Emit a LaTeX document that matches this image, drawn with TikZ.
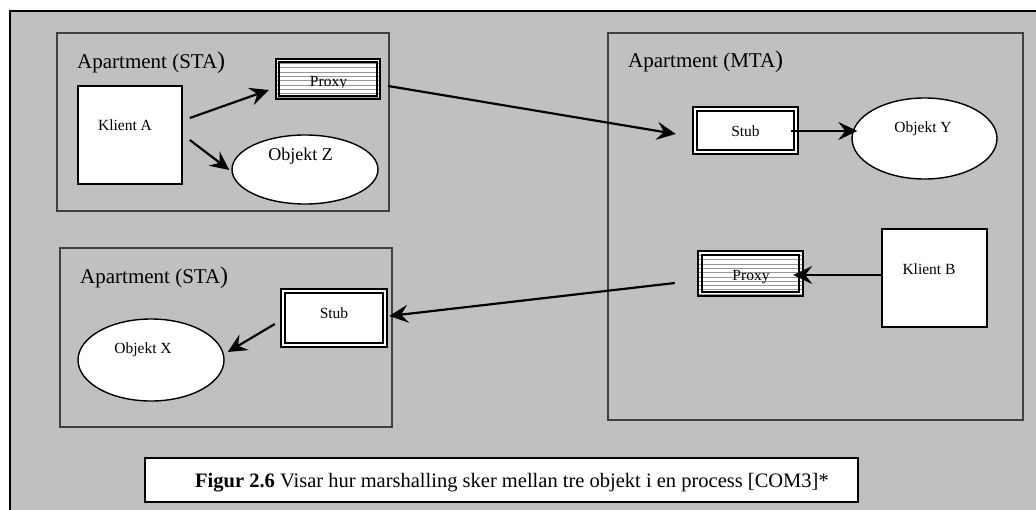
\documentclass[tikz,border=0pt]{standalone}
\usepackage{fontspec}
\setmainfont{Liberation Serif}
\usetikzlibrary{arrows.meta,calc,shapes.geometric}
\definecolor{sheet}{RGB}{192,192,192}
\definecolor{aptline}{RGB}{64,64,64}
\definecolor{hatch}{RGB}{150,150,150}
\newcommand{\bigparen}{{\fontsize{24}{24}\selectfont )}}

\begin{document}
\begin{tikzpicture}[x=1pt,y=-1pt,
  apt/.style={draw=aptline,line width=1.6pt,inner sep=0pt,anchor=north west},
  whitebox/.style={draw=black,fill=white,line width=1.6pt,inner sep=0pt},
  objshape/.style={ellipse,draw=black,fill=white,line width=1.4pt,inner sep=0pt},
  relay/.style={draw=black,fill=white,line width=2.4pt,inner sep=0pt},
  hatched/.style={path picture={
      \foreach \k in {1,...,14}
        \draw[hatch,line width=0.6pt]
          ([yshift=-\k*4.3pt]path picture bounding box.north west) --
          ([yshift=-\k*4.3pt]path picture bounding box.north east);}},
  innerline/.style={draw=black,line width=2.2pt},
  lbl/.style={font=\fontsize{15.5}{18}\selectfont,inner sep=0pt,anchor=base},
  aptlbl/.style={font=\fontsize{21}{24}\selectfont,inner sep=0pt,anchor=base west},
  arr/.style={line width=2.2pt,-{Stealth[length=19pt,width=18pt,inset=7pt]}},
]
\useasboundingbox (0,0) rectangle (1036,509);
\fill[white] (0,0) rectangle (1036,509);

% background sheet
\draw[fill=sheet,line width=1.6pt] (10,11) rectangle (1050,525);

% apartments
\node[apt,minimum width=332pt,minimum height=178pt] (sta1) at (56,32) {};
\node[apt,minimum width=415pt,minimum height=387pt] (mta) at (607,32) {};
\node[apt,minimum width=332pt,minimum height=179pt] (sta2) at (59,247) {};

\node[aptlbl] (sta1-t) at (77,68) {Apartment (STA\bigparen};
\node[aptlbl] (mta-t) at (628,67) {Apartment (MTA\bigparen};
\node[aptlbl] (sta2-t) at (80,283) {Apartment (STA\bigparen};

% apartment STA (top)
\node[whitebox,minimum width=104pt,minimum height=98pt] (klientA) at (130,135) {};
\node[lbl] (klientA-t) at (125,130) {Klient A};

\node[relay,hatched,minimum width=104pt,minimum height=40pt] (proxyA) at (328,79) {};
\draw[innerline] ($(proxyA.north west)+(4.5,4.5)$) rectangle ($(proxyA.south east)+(-4.5,-4.5)$);
\begin{scope}
  \clip ($(proxyA.north west)+(5,5)$) rectangle ($(proxyA.east)+(-5,8)$);
  \node[lbl] (proxyA-t) at (328.5,86) {Proxy};
\end{scope}

\node[objshape,minimum width=146pt,minimum height=69pt] (objZ) at (305,169.5) {};
\node[lbl,font=\fontsize{18}{21}\selectfont] (objZ-t) at (300.5,160) {Objekt Z};

% apartment MTA
\node[relay,minimum width=105pt,minimum height=47pt] (stubY) at (745.5,130.5) {};
\draw[innerline] ($(stubY.north west)+(5,5)$) rectangle ($(stubY.south east)+(-5,-5)$);
\node[lbl] (stubY-t) at (745.5,136) {Stub};

\node[objshape,minimum width=145pt,minimum height=81pt] (objY) at (924.5,138.5) {};
\node[lbl] (objY-t) at (923,132) {Objekt Y};

\node[whitebox,minimum width=105pt,minimum height=98pt] (klientB) at (934.5,278) {};
\node[lbl] (klientB-t) at (929,274) {Klient B};

\node[relay,hatched,minimum width=105pt,minimum height=45pt] (proxyB) at (750.5,273.5) {};
\draw[innerline] ($(proxyB.north west)+(5,5)$) rectangle ($(proxyB.south east)+(-5,-5)$);
\node[lbl] (proxyB-t) at (751,280) {Proxy};

% apartment STA (bottom)
\node[relay,minimum width=106pt,minimum height=58pt] (stubX) at (334,318) {};
\draw[innerline] ($(stubX.north west)+(5.5,5)$) rectangle ($(stubX.south east)+(-5.5,-5)$);
\node[lbl] (stubX-t) at (334,318) {Stub};

\node[objshape,minimum width=146pt,minimum height=82pt] (objX) at (151,360) {};
\node[lbl] (objX-t) at (143,353) {Objekt X};

% calls between the parts
\draw[arr] ($(klientA.east)+(7,-17)$) -- ($(proxyA.west)+(-6,11)$);
\draw[arr] ($(klientA.east)+(7,5)$) -- ($(objZ.west)+(-2,0.5)$);
\draw[arr] ($(proxyA.east)+(7,7)$) -- ($(stubY.west)+(-16,3.5)$);
\draw[arr] ($(stubY.east)+(-8,0.5)$) -- ($(objY.west)+(6,-7.5)$);
\draw[arr] ($(klientB.west)+(0,-3)$) -- ($(proxyB.east)+(-11,1.5)$);
\draw[arr] ($(proxyB.west)+(-22,9.5)$) -- ($(stubX.east)+(1,-2)$);
\draw[arr] ($(stubX.west)+(-5,6)$) -- ($(objX.east)+(3,-8)$);

% caption
\node[whitebox,anchor=north west,minimum width=713pt,minimum height=44pt] (caption) at (144,457) {};
\node[inner sep=0pt,anchor=base west,font=\fontsize{20.5}{24}\selectfont] (caption-t) at (195,487)
  {\textbf{Figur 2.6} Visar hur marshalling sker mellan tre objekt i en process [COM3]*};
\end{tikzpicture}
\end{document}
